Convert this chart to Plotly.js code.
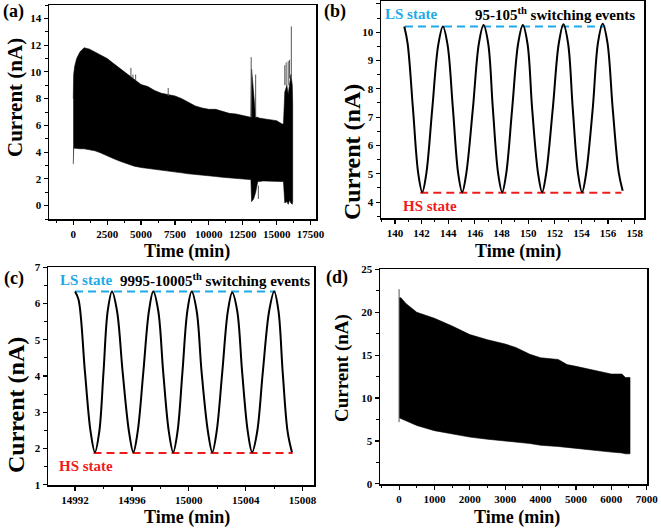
<!DOCTYPE html>
<html><head><meta charset="utf-8">
<script src="https://cdn.plot.ly/plotly-3.0.1.min.js"></script>
<style>html,body{margin:0;padding:0;background:#fff}#chart{width:661px;height:530px}</style>
</head><body><div id="chart"></div>
<script>
// ---------- Panel (a): long-term switching (envelope of dense oscillation) ----------
const aTime  = [0, 30, 100, 250, 500, 800, 1200, 1600, 2000, 2500, 3000, 3500, 4000, 4500, 5000, 5500, 6000, 6500, 7000, 7500, 8000, 8500, 9000, 9500, 10000, 10500, 11000, 11500, 12000, 12500, 13000, 13100, 13150, 13300, 13450, 13600, 13700, 14000, 14500, 15000, 15400, 15500, 15600, 15750, 15850, 15950, 16050, 16150, 16180];
const aUpper = [8.0, 9.8, 10.4, 11.0, 11.5, 11.8, 11.7, 11.5, 11.3, 11.0, 10.6, 10.2, 9.8, 9.45, 9.05, 8.9, 8.6, 8.4, 8.3, 8.2, 8.0, 7.7, 7.45, 7.3, 7.2, 7.2, 7.05, 6.9, 6.85, 6.75, 6.65, 6.6, 10.2, 8.0, 6.6, 6.6, 6.55, 6.5, 6.4, 6.35, 6.1, 6.1, 8.5, 9.0, 8.3, 9.2, 9.8, 9.0, 7.6];
const aLower = [3.1, 4.3, 4.3, 4.3, 4.25, 4.25, 4.2, 4.1, 3.95, 3.75, 3.5, 3.3, 3.1, 2.95, 2.85, 2.75, 2.68, 2.62, 2.58, 2.52, 2.45, 2.38, 2.32, 2.28, 2.22, 2.18, 2.12, 2.05, 2.02, 1.98, 1.95, 1.95, 0.3, 0.5, 1.0, 1.8, 1.8, 1.85, 1.85, 1.82, 1.8, 1.8, 0.2, 0.3, 0.1, 0.4, 0.2, 0.1, 0.3];
const aSpikeTime = [4250, 4400, 4600, 7000, 13120, 13450, 13650, 15600, 15700, 15850, 15950, 16080];
const aSpikeLow  = [9.6, 9.5, 9.4, 8.2, 6.6, 6.6, 0.5, 9.0, 9.0, 9.0, 9.5, 9.5];
const aSpikeHigh = [10.3, 9.8, 9.8, 8.8, 11.1, 9.8, 1.5, 10.5, 10.7, 10.8, 10.9, 13.4];

// ---------- Panel (b): 95-105th switching events ----------
const bTime = [140.7, 140.95, 141.35, 141.75, 142.05, 142.35, 142.8, 143.25, 143.6, 143.95, 144.35, 144.75, 145.05, 145.35, 145.85, 146.3, 146.65, 147.0, 147.35, 147.75, 148.05, 148.35, 148.8, 149.25, 149.6, 149.95, 150.3, 150.75, 151.05, 151.35, 151.85, 152.3, 152.65, 153.0, 153.35, 153.75, 154.05, 154.35, 154.85, 155.25, 155.6, 155.95, 156.35, 156.8, 157.1];
const bCurrent = [10.2, 9.6, 7.3, 5.0, 4.35, 5.0, 7.3, 9.55, 10.2, 9.55, 7.3, 5.0, 4.35, 5.0, 7.3, 9.6, 10.25, 9.6, 7.3, 5.0, 4.35, 5.0, 7.3, 9.6, 10.25, 9.6, 7.3, 5.0, 4.35, 5.0, 7.3, 9.6, 10.28, 9.6, 7.3, 5.0, 4.35, 5.0, 7.3, 9.65, 10.3, 9.65, 7.3, 5.05, 4.4];
const bLSTime = [140.75, 155.8], bLSLevel = [10.2, 10.2];
const bHSTime = [141.9, 157.0], bHSLevel = [4.33, 4.33];

// ---------- Panel (c): 9995-10005th switching events ----------
const cTime = [14992.0, 14992.25, 14992.7, 14993.1, 14993.4, 14993.7, 14994.0, 14994.3, 14994.6, 14994.95, 14995.35, 14995.8, 14996.1, 14996.4, 14996.8, 14997.2, 14997.5, 14997.85, 14998.2, 14998.6, 14998.9, 14999.2, 14999.55, 14999.9, 15000.2, 15000.55, 15000.9, 15001.35, 15001.65, 15001.95, 15002.35, 15002.75, 15003.05, 15003.4, 15003.75, 15004.15, 15004.45, 15004.8, 15005.2, 15005.65, 15006.0, 15006.3, 15006.6, 15006.95, 15007.25];
const cCurrent = [6.33, 6.1, 4.1, 2.45, 1.9, 2.45, 4.1, 5.8, 6.33, 5.8, 4.1, 2.45, 1.9, 2.45, 4.1, 5.8, 6.33, 5.8, 4.1, 2.45, 1.9, 2.45, 4.1, 5.8, 6.33, 5.8, 4.1, 2.45, 1.9, 2.45, 4.1, 5.8, 6.3, 5.8, 4.1, 2.45, 1.9, 2.45, 4.1, 5.8, 6.33, 5.8, 4.1, 2.45, 1.9];
const cLSTime = [14992.0, 15006.1], cLSLevel = [6.33, 6.33];
const cHSTime = [14993.3, 15007.3], cHSLevel = [1.88, 1.88];

// ---------- Panel (d): envelope of dense oscillation ----------
const dTime  = [0, 50, 200, 500, 1000, 1500, 2000, 2500, 3000, 3300, 3700, 4000, 4500, 4750, 5000, 5600, 6000, 6300, 6400, 6530];
const dUpper = [21.7, 21.7, 21.0, 20.0, 19.3, 18.4, 17.4, 16.8, 16.3, 15.9, 15.1, 14.7, 14.5, 13.9, 13.7, 13.2, 12.8, 12.8, 12.4, 12.4];
const dLower = [7.7, 7.6, 7.3, 6.8, 6.2, 5.8, 5.45, 5.2, 5.0, 4.85, 4.7, 4.5, 4.35, 4.25, 4.15, 3.9, 3.7, 3.6, 3.5, 3.5];
const dSpikeTime = [0], dSpikeLow = [7.2], dSpikeHigh = [22.7];

const CYAN = 'rgb(30,170,232)', RED = 'rgb(240,28,28)';
const FONT = 'Liberation Serif, Times New Roman, serif';

function band(t, up, lo, xa, ya) {
  return {x: t.concat(t.slice().reverse()), y: up.concat(lo.slice().reverse()),
    xaxis: xa, yaxis: ya, mode: 'lines', fill: 'toself', fillcolor: '#000',
    line: {color: '#000', width: 0.6}, hoverinfo: 'skip', showlegend: false};
}
function spikes(t, lo, hi, xa, ya) {
  const x = [], y = [];
  t.forEach((v, i) => { x.push(v, v, null); y.push(lo[i], hi[i], null); });
  return {x, y, xaxis: xa, yaxis: ya, mode: 'lines', line: {color: '#555', width: 1}, showlegend: false};
}
function curve(t, v, xa, ya) {
  return {x: t, y: v, xaxis: xa, yaxis: ya, mode: 'lines',
    line: {color: '#000', width: 2, shape: 'spline', smoothing: 1}, showlegend: false};
}
function dashed(t, v, color, xa, ya) {
  return {x: t, y: v, xaxis: xa, yaxis: ya, mode: 'lines',
    line: {color: color, width: 2, dash: '8px,5px'}, showlegend: false};
}

const data = [
  band(aTime, aUpper, aLower, 'x', 'y'),
  spikes(aSpikeTime, aSpikeLow, aSpikeHigh, 'x', 'y'),
  dashed(bLSTime, bLSLevel, CYAN, 'x2', 'y2'),
  dashed(bHSTime, bHSLevel, RED, 'x2', 'y2'),
  curve(bTime, bCurrent, 'x2', 'y2'),
  dashed(cLSTime, cLSLevel, CYAN, 'x3', 'y3'),
  dashed(cHSTime, cHSLevel, RED, 'x3', 'y3'),
  curve(cTime, cCurrent, 'x3', 'y3'),
  band(dTime, dUpper, dLower, 'x4', 'y4'),
  spikes(dSpikeTime, dSpikeLow, dSpikeHigh, 'x4', 'y4')
];

const W = 661, H = 530;
function xd(l, r) { return [l / W, r / W]; }
function yd(t, b) { return [1 - b / H, 1 - t / H]; }
function ax(domain, range, tick0, dtick, minor, anchor) {
  return {domain, range, anchor, tick0, dtick, showgrid: false, zeroline: false,
    showline: true, mirror: true, linecolor: '#000', linewidth: 1.5,
    ticks: 'outside', ticklen: 4, tickwidth: 1.2, tickcolor: '#000',
    exponentformat: 'none', separatethousands: false, tickformat: 'd',
    tickfont: {family: FONT, size: 11, color: '#000', weight: 'bold'},
    minor: {ticks: 'outside', ticklen: 2.5, tickwidth: 1, tickcolor: '#000', tick0: tick0, dtick: minor},
    fixedrange: true};
}

const ann = [];
function txt(text, x, y, size, color, xanchor, angle) {
  ann.push({text: '<b>' + text + '</b>', x: x / W, y: 1 - y / H, xref: 'paper', yref: 'paper',
    xanchor: xanchor || 'center', yanchor: 'middle', showarrow: false, textangle: angle || 0,
    font: {family: FONT, size: size, color: color || '#000'}});
}
// panel letters
txt('(a)', 1, 12, 18, '#000', 'left');
txt('(b)', 322, 12, 18, '#000', 'left');
txt('(c)', 2, 278, 18, '#000', 'left');
txt('(d)', 324, 277, 18, '#000', 'left');
// axis titles
txt('Current (nA)', 15, 98, 21, '#000', 'center', -90);
txt('Current (nA)', 352, 152, 24, '#000', 'center', -90);
txt('Current (nA)', 16, 405, 24, '#000', 'center', -90);
txt('Current (nA)', 342, 368, 19, '#000', 'center', -90);
txt('Time (min)', 186.7, 251, 18);
txt('Time (min)', 517.5, 251, 18);
txt('Time (min)', 186.7, 517, 18);
txt('Time (min)', 516.5, 517, 18);
// state labels
txt('LS state', 383, 14, 15, CYAN, 'left');
txt('95-105<sup>th</sup> switching events', 637, 14, 15, '#000', 'right');
txt('HS state', 401, 206, 15, RED, 'left');
txt('LS state', 58, 280, 15, CYAN, 'left');
txt('9995-10005<sup>th</sup> switching events', 312, 280, 15, '#000', 'right');
txt('HS state', 57, 466, 15, RED, 'left');

const layout = {
  width: W, height: H, margin: {l: 0, r: 0, t: 0, b: 0},
  paper_bgcolor: '#fff', plot_bgcolor: '#fff', showlegend: false,
  font: {family: FONT, color: '#000'},
  xaxis:  ax(xd(49, 316), [-1790, 17900], 0, 2500, 1250, 'y'),
  yaxis:  ax(yd(5, 219), [-1, 15], 0, 2, 1, 'x'),
  xaxis2: ax(xd(381, 644), [138.95, 158.7], 140, 2, 1, 'y2'),
  yaxis2: ax(yd(1, 218), [3.44, 11.1], 4, 1, 0.5, 'x2'),
  xaxis3: ax(xd(48, 314), [14990.1, 15008.8], 14992, 4, 2, 'y3'),
  yaxis3: ax(yd(267, 485), [0.995, 7.005], 1, 1, 0.5, 'x3'),
  xaxis4: ax(xd(380, 647), [-540, 7010], 0, 1000, 500, 'y4'),
  yaxis4: ax(yd(269, 484), [-0.02, 25.05], 0, 5, 2.5, 'x4'),
  annotations: ann
};

Plotly.newPlot('chart', data, layout, {staticPlot: true, displayModeBar: false});
</script></body></html>
